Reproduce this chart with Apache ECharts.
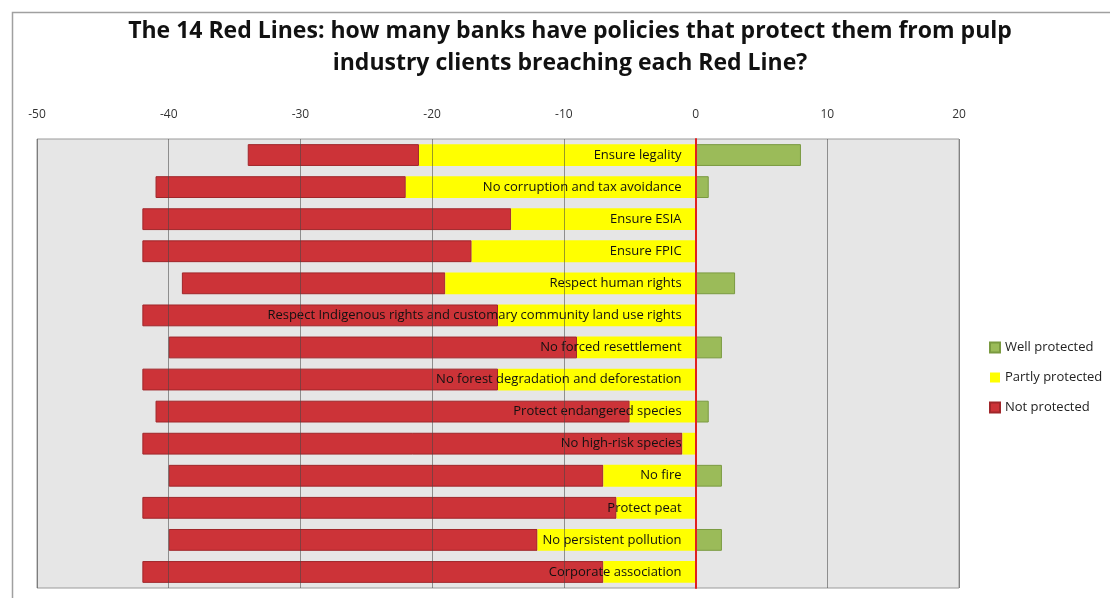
<!DOCTYPE html>
<html>
<head>
<meta charset="utf-8">
<script src="https://cdn.jsdelivr.net/npm/echarts@6/dist/echarts.min.js"></script>
<style>html,body{margin:0;padding:0;background:#fff;}#c{width:1110px;height:598px;}</style>
</head>
<body>
<div id="c"></div>
<script>
const categories = [
  'Ensure legality',
  'No corruption and tax avoidance',
  'Ensure ESIA',
  'Ensure FPIC',
  'Respect human rights',
  'Respect Indigenous rights and customary community land use rights',
  'No forced resettlement',
  'No forest degradation and deforestation',
  'Protect endangered species',
  'No high-risk species',
  'No fire',
  'Protect peat',
  'No persistent pollution',
  'Corporate association'
];
const wellProtected   = [8, 1, 0, 0, 3, 0, 2, 0, 1, 0, 2, 0, 2, 0];
const partlyProtected = [21, 22, 14, 17, 19, 15, 9, 15, 5, 1, 7, 6, 12, 7];
const notProtected    = [13, 19, 28, 25, 20, 27, 31, 27, 36, 41, 33, 36, 28, 35];
const xTicks = { min: -50, max: 20, interval: 10 };

const FONT = '"Open Sans", "Noto Sans", sans-serif';
const chart = echarts.init(document.getElementById('c'));
chart.setOption({
  animation: false,
  backgroundColor: '#fff',
  title: {
    text: 'The 14 Red Lines: how many banks have policies that protect them from pulp\nindustry clients breaching each Red Line?',
    left: 565, top: 10, textAlign: 'center',
    textStyle: { fontFamily: FONT, fontSize: 23, fontWeight: 'bold', color: '#111', lineHeight: 32 }
  },
  graphic: [{
    type: 'rect', left: 10, top: 10, shape: { width: 1200, height: 700 },
    style: { fill: 'none', stroke: '#a0a0a0', lineWidth: 1.5 }, silent: true, z: -1
  }],
  legend: {
    orient: 'vertical', left: 984, top: 336,
    data: ['Well protected', 'Partly protected', 'Not protected'],
    itemWidth: 10, itemHeight: 10, itemGap: 17, icon: 'rect',
    textStyle: { fontFamily: FONT, fontSize: 13, color: '#222' }
  },
  grid: {
    left: 37, right: 151, top: 139, bottom: 10,
    containLabel: false, outerBoundsMode: 'none',
    show: true, backgroundColor: '#e6e6e6', borderColor: '#9a9a9a', borderWidth: 1
  },
  xAxis: {
    type: 'value', position: 'top', min: xTicks.min, max: xTicks.max, interval: xTicks.interval,
    z: 5,
    axisLine: { show: false }, axisTick: { show: false },
    axisLabel: { margin: 18, fontFamily: FONT, fontSize: 12, color: '#333' },
    splitLine: { show: true, lineStyle: { color: 'rgba(70,70,70,0.55)', width: 1 } }
  },
  yAxis: {
    type: 'category', data: categories, inverse: true, z: 10,
    axisLine: { onZero: true, lineStyle: { color: '#e02020', width: 2 } },
    axisTick: { show: false },
    axisLabel: { show: false }
  },
  series: [
    {
      name: 'Partly protected', type: 'bar', stack: 'a', barCategoryGap: '32%', z: 4,
      data: partlyProtected.map(v => -v),
      itemStyle: { color: '#ffff00' },
      label: {
        show: true, position: 'insideRight', distance: 14, formatter: '{b}',
        fontFamily: FONT, fontSize: 13, color: '#111'
      },
      labelLayout: { hideOverlap: false }
    },
    {
      name: 'Not protected', type: 'bar', stack: 'a', z: 2,
      data: notProtected.map(v => -v),
      itemStyle: { color: '#cc3338', borderColor: '#a0262a', borderWidth: 1 }
    },
    {
      name: 'Well protected', type: 'bar', stack: 'a', z: 2,
      data: wellProtected.map(v => (v === 0 ? null : v)),
      itemStyle: { color: '#9bbb59', borderColor: '#7a9a40', borderWidth: 1 }
    }
  ]
});
</script>
</body>
</html>
